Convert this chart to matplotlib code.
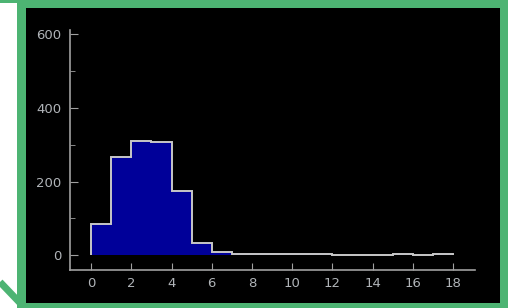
import matplotlib
matplotlib.use("Agg")
import matplotlib.pyplot as plt
import numpy as np

# histogram data: unit bins from 0 to 18
bin_edges = np.arange(0, 19)
counts = [84, 268, 310, 307, 175, 33, 9, 4, 4, 4, 4, 4, 1, 1, 1, 4, 1, 4]
xticks = [0, 2, 4, 6, 8, 10, 12, 14, 16, 18]
yticks = [0, 200, 400, 600]

green = '#4db473'
fill_col = '#000099'
line_col = '#c8c8c8'
text_col = '#b0b4b8'

fig = plt.figure(figsize=(5.13, 3.08), dpi=100)
fig.patch.set_facecolor('white')

# background frame drawn in pixel coords
bg = fig.add_axes([0, 0, 1, 1])
bg.set_xlim(0, 513)
bg.set_ylim(308, 0)
bg.axis('off')
bg.add_patch(plt.Rectangle((17, 0), 491, 308, color=green, lw=0))
bg.add_patch(plt.Rectangle((0, 0), 17, 3, color=green, lw=0))
bg.add_patch(plt.Rectangle((26, 8), 474, 295, color='black', lw=0))
bg.plot([0, 22], [282, 305], color=green, lw=5, solid_capstyle='butt')

ax = fig.add_axes([0.1365, 0.1234, 0.7895, 0.7792])
ax.set_facecolor('black')
ax.stairs(counts, bin_edges, fill=True, color=fill_col, lw=0)
ax.stairs(counts, bin_edges, color=line_col, lw=1.4)

ax.set_xlim(-1.05, 19.1)
ax.set_ylim(-40, 612)
ax.set_xticks(xticks)
ax.set_yticks(yticks)
ax.set_yticks([100, 300, 500], minor=True)

for s in ['top', 'right']:
    ax.spines[s].set_visible(False)
for s in ['left', 'bottom']:
    ax.spines[s].set_color('#a0a0a0')
    ax.spines[s].set_linewidth(1.2)

ax.tick_params(axis='both', which='major', direction='in', length=5,
               color='#a0a0a0', labelcolor=text_col, labelsize=9.5, pad=5)
ax.tick_params(axis='y', which='major', length=6, pad=6)
ax.tick_params(axis='y', which='minor', direction='in', length=3.5, color='#a0a0a0')

fig.savefig('out.png', dpi=100, facecolor='white')
